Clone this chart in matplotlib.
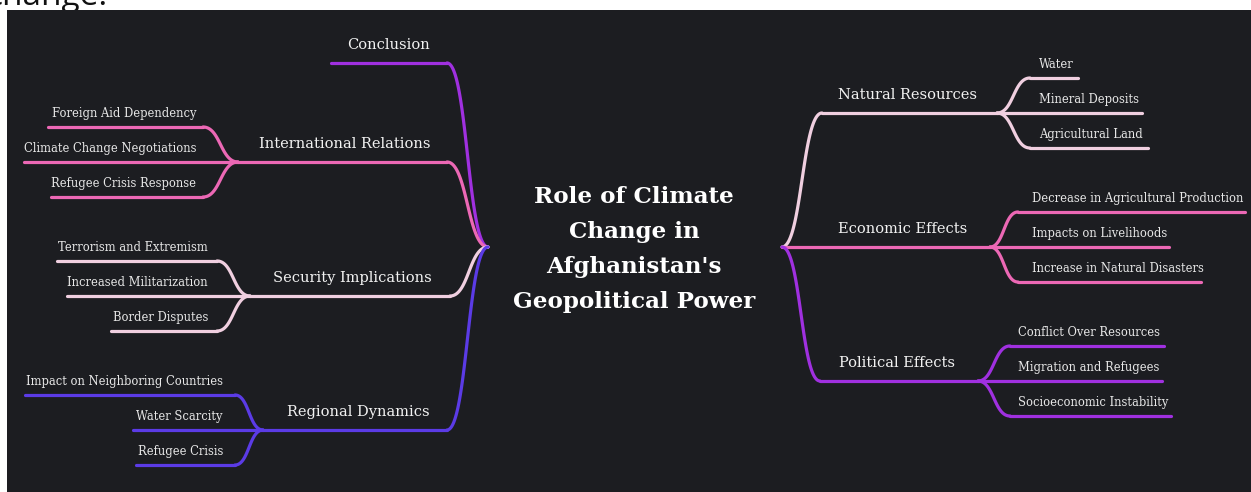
#!/usr/bin/env python3
"""Mind map: role of climate change in Afghanistan's geopolitical power."""

import numpy as np
import matplotlib.pyplot as plt
from matplotlib.patches import Rectangle

W, H = 1251, 492
BG = '#1c1d21'

root_lines = ["Role of Climate", "Change in", "Afghanistan's", "Geopolitical Power"]

branch_names = ["Conclusion", "International Relations", "Security Implications",
                "Regional Dynamics", "Natural Resources", "Economic Effects",
                "Political Effects"]
branch_children = [
    [],
    ["Foreign Aid Dependency", "Climate Change Negotiations", "Refugee Crisis Response"],
    ["Terrorism and Extremism", "Increased Militarization", "Border Disputes"],
    ["Impact on Neighboring Countries", "Water Scarcity", "Refugee Crisis"],
    ["Water", "Mineral Deposits", "Agricultural Land"],
    ["Decrease in Agricultural Production", "Impacts on Livelihoods",
     "Increase in Natural Disasters"],
    ["Conflict Over Resources", "Migration and Refugees", "Socioeconomic Instability"],
]

# layout (pixels): side, branch line y, outer end x, junction x, label centre, colour
branch_side = [-1, -1, -1, -1, 1, 1, 1]
branch_y = [63, 162, 296, 430, 113, 247, 381]
branch_outer = [447, 447, 450, 447, 822, 782, 820]
branch_junction = [331, 238, 250, 263, 997, 990, 978]
branch_text_x = [388, 345, 352, 358, 907, 903, 897]
branch_color = ['#a030e0', '#ec68b5', '#f0cfe0', '#5b3be6',
                '#f0cfe0', '#ec68b5', '#a030e0']
child_gap = [0, 35, 35, 35, 35, 35, 35]
child_inner = [None, [203, 238, 203], [217, 250, 217], [235, 263, 235],
               [1030, 997, 1030], [1018, 990, 1018], [1010, 978, 1010]]
child_end = [None, [48, 24, 51], [57, 67, 111], [25, 133, 136],
             [1078, 1142, 1148], [1245, 1169, 1201], [1164, 1162, 1171]]
child_text_x = [None, 196, 208, 223, 1039, 1032, 1018]

ROOT_L = (488, 247)
ROOT_R = (782, 247)


def bez(p0, p3):
    # smooth S-shaped link, horizontal at both ends
    mx = (p0[0] + p3[0]) / 2
    t = np.linspace(0, 1, 80)[:, None]
    p0 = np.array(p0, float)
    p1 = np.array([mx, p0[1]])
    p2 = np.array([mx, p3[1]])
    p3 = np.array(p3, float)
    return ((1 - t) ** 3) * p0 + 3 * ((1 - t) ** 2) * t * p1 + 3 * (1 - t) * t ** 2 * p2 + t ** 3 * p3


def main():
    fig = plt.figure(figsize=(W / 100, H / 100), dpi=100)
    fig.patch.set_facecolor('white')
    ax = fig.add_axes([0, 0, 1, 1])
    ax.set_xlim(0, W)
    ax.set_ylim(H, 0)
    ax.axis('off')

    # leftover caption text above the panel (cut by the image edge)
    ax.text(-14, 5, "change.", fontsize=24, family='Open Sans', color='#111111',
            va='baseline', ha='left', zorder=0)
    ax.add_patch(Rectangle((7, 10), W - 7, H - 10, facecolor=BG, edgecolor='none', zorder=1))

    lw = 2.3
    for i, name in enumerate(branch_names):
        side = branch_side[i]
        col = branch_color[i]
        y = branch_y[i]
        root = ROOT_L if side < 0 else ROOT_R
        outer = branch_outer[i]
        jx = branch_junction[i]
        if abs(y - root[1]) > 1:
            pts = bez(root, (outer, y))
            ax.plot(pts[:, 0], pts[:, 1], color=col, lw=lw, solid_capstyle='round', zorder=3)
            ax.plot([outer, jx], [y, y], color=col, lw=lw, solid_capstyle='round', zorder=3)
        else:
            ax.plot([root[0], jx], [y, y], color=col, lw=lw, solid_capstyle='round', zorder=3)
        ax.text(branch_text_x[i], y - 14, name, fontsize=10.5, family='DejaVu Serif',
                color='#f2f2f2', ha='center', va='baseline', zorder=4)

        for k, child in enumerate(branch_children[i]):
            cy = y + (k - 1) * child_gap[i]
            cin = child_inner[i][k]
            cend = child_end[i][k]
            if k != 1:
                pts = bez((jx, y), (cin, cy))
                ax.plot(pts[:, 0], pts[:, 1], color=col, lw=lw, solid_capstyle='round', zorder=3)
            start = cin if k != 1 else jx
            ax.plot([start, cend], [cy, cy], color=col, lw=lw, solid_capstyle='round', zorder=3)
            ax.text(child_text_x[i], cy - 10, child, fontsize=8.3, family='DejaVu Serif',
                    color='#e8e8e8', ha='right' if side < 0 else 'left', va='baseline', zorder=4)

    for j, line in enumerate(root_lines):
        ax.text(634, 197 + j * 35, line, fontsize=16.6, family='DejaVu Serif', weight='bold',
                color='white', ha='center', va='center', zorder=4)

    fig.savefig('out.png', dpi=100, facecolor=fig.get_facecolor())


if __name__ == "__main__":
    main()
